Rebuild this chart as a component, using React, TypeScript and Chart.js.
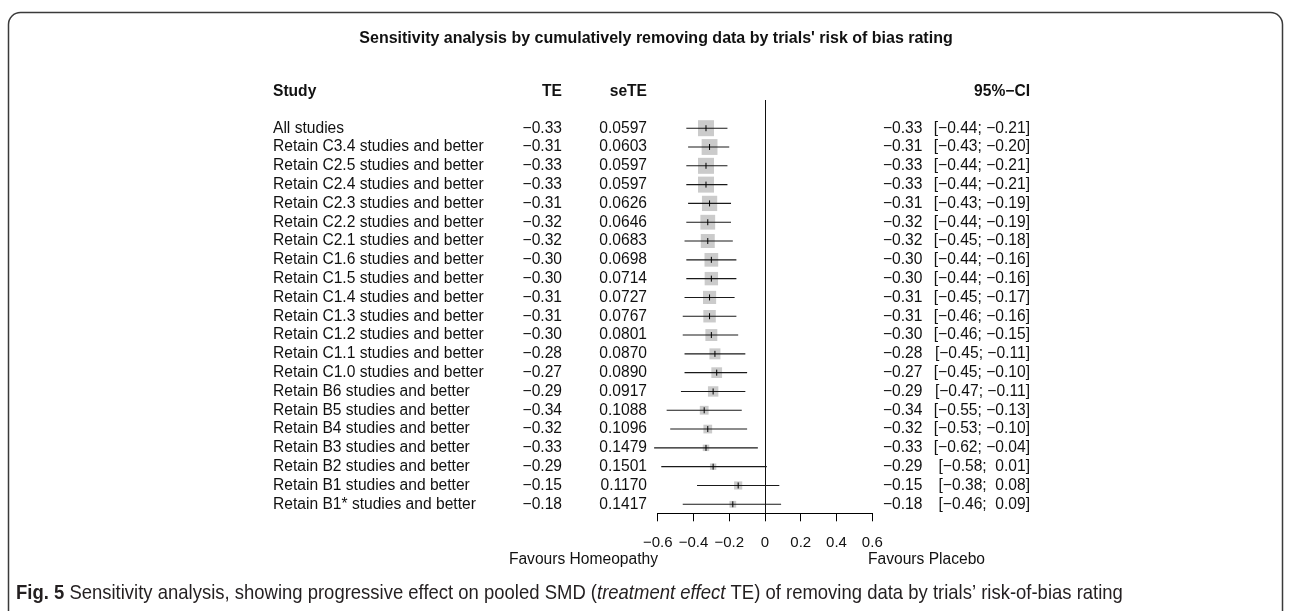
import { useEffect, useRef } from "react";
import { Chart, registerables } from "chart.js";

Chart.register(...registerables);

// Cumulative sensitivity analysis rows
const studyLabels = [
  "All studies",
  "Retain C3.4 studies and better",
  "Retain C2.5 studies and better",
  "Retain C2.4 studies and better",
  "Retain C2.3 studies and better",
  "Retain C2.2 studies and better",
  "Retain C2.1 studies and better",
  "Retain C1.6 studies and better",
  "Retain C1.5 studies and better",
  "Retain C1.4 studies and better",
  "Retain C1.3 studies and better",
  "Retain C1.2 studies and better",
  "Retain C1.1 studies and better",
  "Retain C1.0 studies and better",
  "Retain B6 studies and better",
  "Retain B5 studies and better",
  "Retain B4 studies and better",
  "Retain B3 studies and better",
  "Retain B2 studies and better",
  "Retain B1 studies and better",
  "Retain B1* studies and better",
];

const teValues = [
  -0.33, -0.31, -0.33, -0.33, -0.31, -0.32, -0.32, -0.3, -0.3, -0.31, -0.31,
  -0.3, -0.28, -0.27, -0.29, -0.34, -0.32, -0.33, -0.29, -0.15, -0.18,
];

const seValues = [
  0.0597, 0.0603, 0.0597, 0.0597, 0.0626, 0.0646, 0.0683, 0.0698, 0.0714,
  0.0727, 0.0767, 0.0801, 0.087, 0.089, 0.0917, 0.1088, 0.1096, 0.1479,
  0.1501, 0.117, 0.1417,
];

const ciLower = [
  -0.44, -0.43, -0.44, -0.44, -0.43, -0.44, -0.45, -0.44, -0.44, -0.45, -0.46,
  -0.46, -0.45, -0.45, -0.47, -0.55, -0.53, -0.62, -0.58, -0.38, -0.46,
];

const ciUpper = [
  -0.21, -0.2, -0.21, -0.21, -0.19, -0.19, -0.18, -0.16, -0.16, -0.17, -0.16,
  -0.15, -0.11, -0.1, -0.11, -0.13, -0.1, -0.04, 0.01, 0.08, 0.09,
];

const xTickValues = [-0.6, -0.4, -0.2, 0, 0.2, 0.4, 0.6];

const SANS = '"Liberation Sans", Arial, Helvetica, sans-serif';
const INK = "#111111";
const MINUS = "\u2212";
const BODY_PX = 15.6;

const fmt = (v: number, d: number) =>
  (v < 0 ? MINUS : "") + Math.abs(v).toFixed(d);

const fmtBound = (v: number) => (v < 0 ? "" : " ") + fmt(v, 2);

// Square side shrinks with the standard error (inverse-variance weighting)
const squareSide = (se: number) => (16 * 0.0597) / se;

const forestDecor = {
  id: "forestDecor",
  beforeDatasetsDraw(chart: any) {
    const { ctx, chartArea } = chart;
    const x0 = Math.round(chart.scales.x.getPixelForValue(0)) + 0.5;
    ctx.save();
    ctx.strokeStyle = INK;
    ctx.lineWidth = 1;
    ctx.beginPath();
    ctx.moveTo(x0, chartArea.top);
    ctx.lineTo(x0, chartArea.bottom);
    ctx.stroke();
    ctx.restore();
  },
  afterDraw(chart: any) {
    const { ctx } = chart;
    const yScale = chart.scales.y;
    ctx.save();

    // rounded figure frame
    ctx.strokeStyle = "#3a3a3a";
    ctx.lineWidth = 1.5;
    const L = 8.5,
      T = 12.5,
      R = 1282.5,
      B = 650,
      r = 12;
    ctx.beginPath();
    ctx.moveTo(L, B);
    ctx.lineTo(L, T + r);
    ctx.arcTo(L, T, L + r, T, r);
    ctx.lineTo(R - r, T);
    ctx.arcTo(R, T, R, T + r, r);
    ctx.lineTo(R, B);
    ctx.stroke();

    ctx.fillStyle = INK;
    ctx.textBaseline = "middle";

    // title
    ctx.font = `bold 16px ${SANS}`;
    ctx.textAlign = "center";
    ctx.fillText(
      "Sensitivity analysis by cumulatively removing data by trials' risk of bias rating",
      656,
      39
    );

    // column headers
    const hy = 92;
    ctx.font = `bold ${BODY_PX}px ${SANS}`;
    ctx.textAlign = "left";
    ctx.fillText("Study", 273, hy);
    ctx.textAlign = "right";
    ctx.fillText("TE", 562, hy);
    ctx.fillText("seTE", 647, hy);
    ctx.fillText("95%\u2212CI", 1030, hy);

    // row texts
    ctx.font = `${BODY_PX}px ${SANS}`;
    studyLabels.forEach((label, i) => {
      const y = yScale.getPixelForValue(i);
      ctx.textAlign = "left";
      ctx.fillText(label, 273, y);
      ctx.textAlign = "right";
      ctx.fillText(fmt(teValues[i], 2), 562, y);
      ctx.fillText(seValues[i].toFixed(4), 647, y);
      ctx.textAlign = "left";
      ctx.fillText(fmt(teValues[i], 2), 883, y);
      ctx.textAlign = "right";
      ctx.fillText(
        `[${fmtBound(ciLower[i])}; ${fmtBound(ciUpper[i])}]`,
        1030,
        y
      );
    });

    // direction labels
    const fy = 560;
    ctx.textAlign = "right";
    ctx.fillText("Favours Homeopathy", 658, fy);
    ctx.textAlign = "left";
    ctx.fillText("Favours Placebo", 868, fy);

    // caption
    const parts = [
      { t: "Fig. 5", f: `bold 21px ${SANS}` },
      {
        t: " Sensitivity analysis, showing progressive effect on pooled SMD (",
        f: `21px ${SANS}`,
      },
      { t: "treatment effect", f: `italic 21px ${SANS}` },
      {
        t: " TE) of removing data by trials\u2019 risk-of-bias rating",
        f: `21px ${SANS}`,
      },
    ];
    ctx.save();
    ctx.translate(16, 593);
    ctx.scale(0.88, 1);
    ctx.fillStyle = "#231f20";
    ctx.textAlign = "left";
    let cx = 0;
    parts.forEach((p) => {
      ctx.font = p.f;
      ctx.fillText(p.t, cx, 0);
      cx += ctx.measureText(p.t).width;
    });
    ctx.restore();

    ctx.restore();
  },
};

export default function App() {
  const canvasRef = useRef<HTMLCanvasElement | null>(null);

  useEffect(() => {
    document.body.style.margin = "0";
    const canvas = canvasRef.current;
    if (!canvas) return;

    const rows = studyLabels.map((_, i) => i);
    const whiskers: { x: number; y: number }[] = [];
    rows.forEach((i) => {
      whiskers.push({ x: ciLower[i], y: i });
      whiskers.push({ x: ciUpper[i], y: i });
      whiskers.push({ x: NaN, y: NaN });
    });

    const chart = new Chart(canvas, {
      type: "scatter",
      data: {
        datasets: [
          {
            label: "estimate",
            data: rows.map((i) => ({ x: teValues[i], y: i })),
            pointStyle: "line",
            rotation: 90,
            pointRadius: 3,
            borderColor: "#000",
            borderWidth: 1,
            order: 0,
            clip: false,
          },
          {
            label: "95% CI",
            data: whiskers,
            showLine: true,
            spanGaps: false,
            pointRadius: 0,
            borderColor: "#1a1a1a",
            borderWidth: 1.1,
            order: 1,
            clip: false,
          },
          {
            label: "weight",
            data: rows.map((i) => ({ x: teValues[i], y: i })),
            pointStyle: "rect",
            pointRadius: (c: any) =>
              squareSide(seValues[c.dataIndex]) / Math.SQRT2,
            backgroundColor: "#cbcbcb",
            borderWidth: 0,
            order: 2,
            clip: false,
          },
        ],
      },
      options: {
        animation: false,
        responsive: false,
        devicePixelRatio: 1,
        events: [],
        layout: {
          padding: { left: 657.7, right: 417.7, top: 100, bottom: 57.7 },
        },
        plugins: {
          legend: { display: false },
          tooltip: { enabled: false },
          title: { display: false },
        },
        scales: {
          x: {
            type: "linear",
            min: -0.6,
            max: 0.6,
            afterBuildTicks: (axis: any) => {
              axis.ticks = xTickValues.map((v) => ({ value: v }));
            },
            afterFit: (axis: any) => {
              axis.height = 40;
            },
            grid: {
              display: true,
              drawOnChartArea: false,
              drawTicks: true,
              tickLength: 8,
              color: "#000",
              lineWidth: 1,
            },
            border: { display: true, color: "#000", width: 1 },
            ticks: {
              autoSkip: false,
              maxRotation: 0,
              padding: 13,
              color: INK,
              font: { family: SANS, size: 15 },
              callback: (v: any) => (Number(v) === 0 ? "0" : fmt(Number(v), 1)),
            },
          },
          y: {
            type: "linear",
            reverse: true,
            min: -1.5,
            max: 20.48,
            display: false,
          },
        },
      },
      plugins: [forestDecor],
    });

    return () => chart.destroy();
  }, []);

  return (
    <div style={{ position: "absolute", left: 0, top: 0, width: 1290, height: 611, background: "#fff" }}>
      <canvas ref={canvasRef} width={1290} height={611} />
    </div>
  );
}
